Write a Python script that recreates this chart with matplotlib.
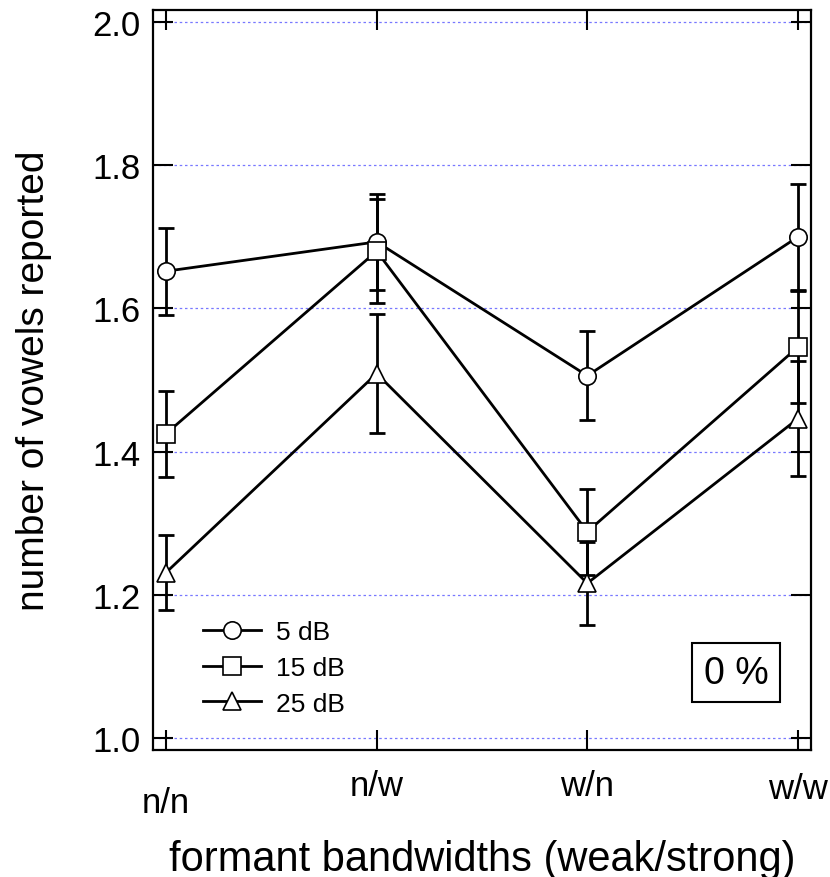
import numpy as np
import matplotlib.pyplot as plt
from matplotlib.transforms import ScaledTranslation

plt.rcParams['font.family'] = ['Liberation Sans', 'DejaVu Sans']

# categories (weak/strong formant bandwidths)
categories = ['n/n', 'n/w', 'w/n', 'w/w']

# mean number of vowels reported, per level
mean_5db = [1.652, 1.693, 1.506, 1.700]
mean_15db = [1.425, 1.680, 1.288, 1.546]
mean_25db = [1.231, 1.509, 1.216, 1.446]

# error bar half-widths
err_5db = [0.061, 0.067, 0.062, 0.074]
err_15db = [0.060, 0.073, 0.060, 0.078]
err_25db = [0.052, 0.083, 0.058, 0.080]

labels = ['5 dB', '15 dB', '25 dB']
yticks = [1.0, 1.2, 1.4, 1.6, 1.8, 2.0]

fig = plt.figure(figsize=(8.30, 8.78), dpi=100)
ax = fig.add_axes([0.1843, 0.1446, 0.7928, 0.8429])

x = np.arange(len(categories))

# dotted grid lines
for yv in yticks:
    ax.axhline(yv, color='#7878ff', lw=0.9, ls=(0, (2, 2.2)), zorder=0)

series = [(mean_5db, err_5db, 'o'), (mean_15db, err_15db, 's'), (mean_25db, err_25db, '^')]
handles = []
for (m, e, mk), lab in zip(series, labels):
    ax.errorbar(x, m, yerr=e, fmt='none', ecolor='black', elinewidth=2,
                capsize=6, capthick=2, zorder=2)
    h, = ax.plot(x, m, color='black', lw=2, marker=mk, markersize=12.5,
                 markerfacecolor='white', markeredgecolor='black',
                 markeredgewidth=1.2, label=lab, zorder=3)
    handles.append(h)

ax.set_xlim(-0.062, 3.062)
ax.set_ylim(0.983, 2.017)
ax.set_yticks(yticks)
ax.set_yticklabels(['%.1f' % v for v in yticks])
ax.set_xticks(x)
ax.set_xticklabels(categories)

ax.tick_params(axis='both', direction='in', length=14.4, width=1.5,
               top=True, right=True, labelsize=25)
ax.tick_params(axis='y', pad=9)
ax.tick_params(axis='x', pad=14)
for s in ax.spines.values():
    s.set_linewidth(1.6)

# staggered x tick labels
offsets = [12, 0, 0, 2]
for lbl, dy in zip(ax.get_xticklabels(), offsets):
    lbl.set_transform(lbl.get_transform() + ScaledTranslation(0, -dy / 72, fig.dpi_scale_trans))

ax.set_xlabel('formant bandwidths (weak/strong)', fontsize=30, labelpad=14)
ax.set_ylabel('number of vowels reported', fontsize=28, labelpad=29)

leg = ax.legend(handles=handles, loc='upper left', bbox_to_anchor=(0.06, 0.19),
                frameon=False, fontsize=19, handlelength=2.2, handletextpad=0.55,
                labelspacing=0.45, borderaxespad=0)

ax.text(0.886, 0.1047, '0 %', transform=ax.transAxes, fontsize=27,
        ha='center', va='center',
        bbox=dict(boxstyle='square,pad=0.3', facecolor='white', edgecolor='black', lw=1.5))

fig.savefig('out.png', dpi=100)
